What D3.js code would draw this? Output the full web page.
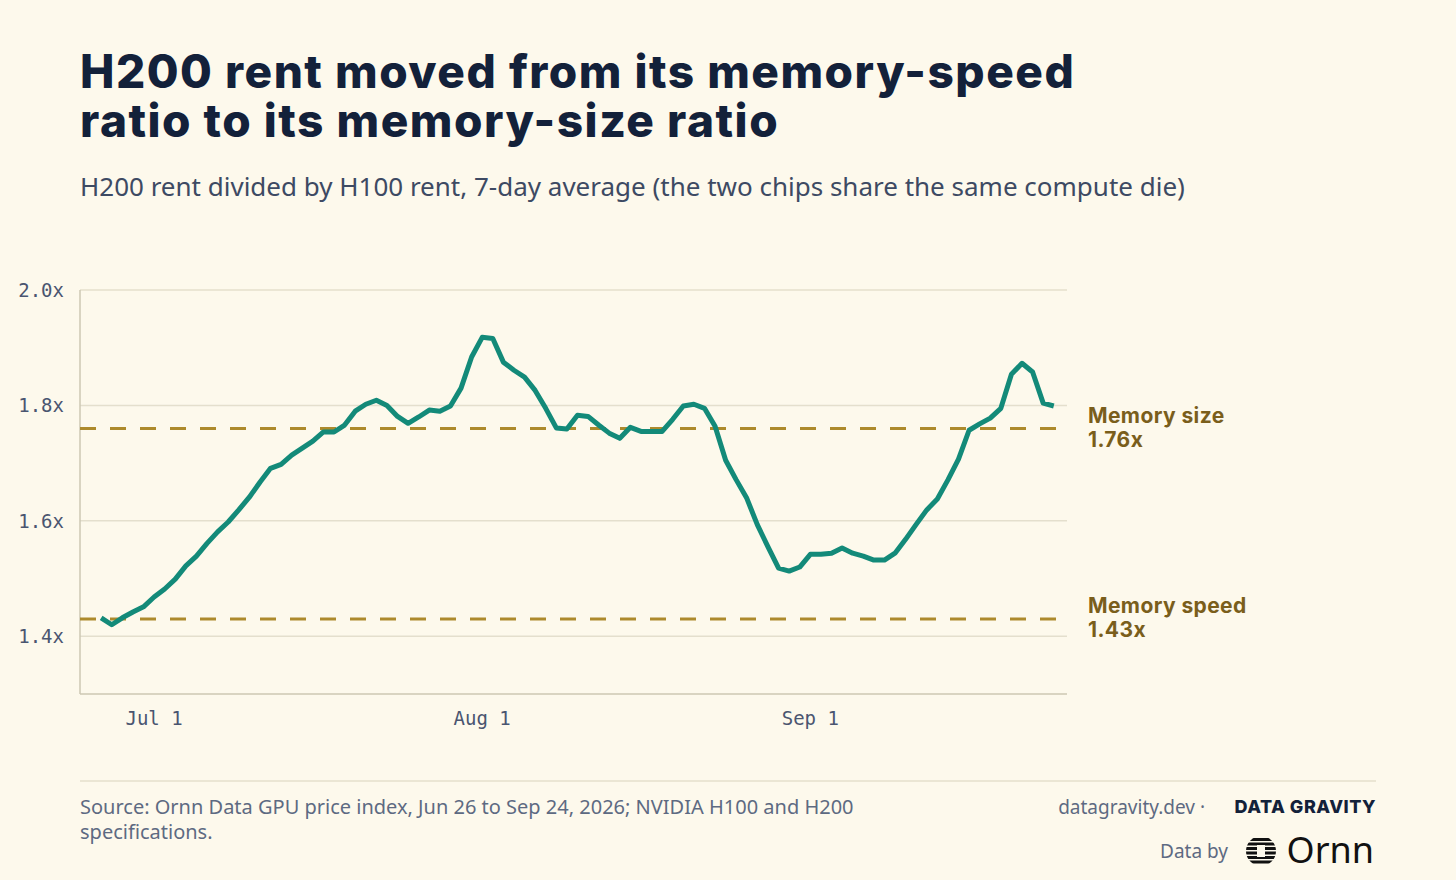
<!DOCTYPE html>
<html><head><meta charset="utf-8">
<script src="https://cdn.jsdelivr.net/npm/d3@7"></script>
<style>
body{margin:0;background:#fdf9ec;}
svg{display:block;}
</style></head><body>
<svg id="chart" width="1456" height="880"></svg>
<script>
// Data: daily 7-day average ratio, Jun 26 to Sep 24, 2026
let startDate = new Date(2026, 5, 26);
let ratios = [1.432,1.42,1.432,1.442,1.451,1.468,1.482,1.499,1.522,1.539,1.561,1.581,1.598,1.619,1.641,1.667,1.691,1.698,1.714,1.726,1.738,1.754,1.754,1.766,1.79,1.802,1.809,1.80,1.781,1.769,1.78,1.792,1.79,1.799,1.83,1.884,1.918,1.916,1.875,1.861,1.849,1.826,1.795,1.761,1.759,1.783,1.781,1.766,1.752,1.743,1.762,1.755,1.755,1.755,1.776,1.799,1.802,1.795,1.764,1.705,1.671,1.639,1.593,1.555,1.518,1.513,1.52,1.542,1.542,1.544,1.553,1.544,1.539,1.532,1.532,1.544,1.568,1.594,1.619,1.638,1.671,1.707,1.757,1.768,1.778,1.795,1.854,1.873,1.858,1.804,1.799];
let yTicks = [1.4, 1.6, 1.8, 2.0];
let xTicks = [new Date(2026, 6, 1), new Date(2026, 7, 1), new Date(2026, 8, 1)];
let titleLines = ["H200 rent moved from its memory-speed", "ratio to its memory-size ratio"];
let refLines = [
    { name: "Memory size", value: 1.76 },
    { name: "Memory speed", value: 1.43 }
];

let data = ratios.map(function (v, i) { return { date: d3.timeDay.offset(startDate, i), value: v }; });

let svg = d3.select("#chart");
let plotLeft = 80, plotRight = 1067, plotTop = 290, plotBottom = 694;

let x = d3.scaleTime()
    .domain([new Date(2026, 5, 24), new Date(2026, 8, 25, 6)])
    .range([plotLeft, plotRight]);
let y = d3.scaleLinear().domain([1.3, 2.0]).range([plotBottom, plotTop]);

// Titles (one text per line)
svg.append("g").selectAll("text").data(titleLines).enter().append("text")
    .attr("x", 80).attr("y", function (d, i) { return 88 + i * 49; })
    .attr("font-family", "Inter").attr("font-weight", 800).attr("font-size", 46)
    .attr("fill", "#13213a").attr("letter-spacing", "1.5")
    .text(function (d) { return d; });

svg.append("text").attr("x", 80).attr("y", 196)
    .attr("font-family", "Noto Sans").attr("font-size", 26).attr("fill", "#3d4a63")
    .text("H200 rent divided by H100 rent, 7-day average (the two chips share the same compute die)");

// Grid
svg.append("g").selectAll("line").data(yTicks).enter().append("line")
    .attr("x1", plotLeft).attr("x2", plotRight)
    .attr("y1", function (d) { return y(d); }).attr("y2", function (d) { return y(d); })
    .attr("stroke", "#e4dfcd").attr("stroke-width", 1.5);

// Axes lines
svg.append("line").attr("x1", plotLeft).attr("x2", plotLeft).attr("y1", plotTop).attr("y2", plotBottom)
    .attr("stroke", "#cdc7b3").attr("stroke-width", 1.5);
svg.append("line").attr("x1", plotLeft).attr("x2", plotRight).attr("y1", plotBottom).attr("y2", plotBottom)
    .attr("stroke", "#cdc7b3").attr("stroke-width", 1.5);

// Y tick labels
svg.append("g").selectAll("text").data(yTicks).enter().append("text")
    .attr("x", 64).attr("y", function (d) { return y(d) + 7; })
    .attr("text-anchor", "end")
    .attr("font-family", "DejaVu Sans Mono").attr("font-size", 19).attr("fill", "#4a5570")
    .text(function (d) { return d.toFixed(1) + "x"; });

// X tick labels
let fmt = d3.timeFormat("%b %-d");
svg.append("g").selectAll("text").data(xTicks).enter().append("text")
    .attr("x", function (d) { return x(d); }).attr("y", 725)
    .attr("text-anchor", "middle")
    .attr("font-family", "DejaVu Sans Mono").attr("font-size", 19).attr("fill", "#4a5570")
    .text(function (d) { return fmt(d); });

// Reference lines
svg.append("g").selectAll("line").data(refLines).enter().append("line")
    .attr("x1", plotLeft).attr("x2", plotRight)
    .attr("y1", function (d) { return y(d.value); }).attr("y2", function (d) { return y(d.value); })
    .attr("stroke", "#ad8a2c").attr("stroke-width", 3).attr("stroke-dasharray", "16,14");

let labels = svg.append("g").selectAll("text").data(refLines).enter().append("text")
    .attr("x", 1088).attr("y", function (d) { return y(d.value) - 6; })
    .attr("font-family", "Inter").attr("font-weight", 700).attr("font-size", 21)
    .attr("fill", "#7a5e1b").attr("letter-spacing", "0.4");
labels.append("tspan").attr("x", 1088).text(function (d) { return d.name; });
labels.append("tspan").attr("x", 1088).attr("dy", 24).text(function (d) { return d.value.toFixed(2) + "x"; });

// Line
let line = d3.line()
    .x(function (d) { return x(d.date); })
    .y(function (d) { return y(d.value); });
svg.append("path").datum(data).attr("d", line)
    .attr("fill", "none").attr("stroke", "#138a79").attr("stroke-width", 5)
    .attr("stroke-linejoin", "round");

// Footer
svg.append("line").attr("x1", 80).attr("x2", 1376).attr("y1", 781).attr("y2", 781)
    .attr("stroke", "#e4dfcd").attr("stroke-width", 1.5);
let src = svg.append("text").attr("font-family", "Noto Sans").attr("font-size", 20).attr("fill", "#5d6a82");
src.append("tspan").attr("x", 80).attr("y", 814).text("Source: Ornn Data GPU price index, Jun 26 to Sep 24, 2026; NVIDIA H100 and H200");
src.append("tspan").attr("x", 80).attr("y", 839).text("specifications.");

svg.append("text").attr("x", 1205).attr("y", 814).attr("text-anchor", "end")
    .attr("font-family", "Noto Sans").attr("font-size", 19).attr("fill", "#5d6a82")
    .text("datagravity.dev ·");
svg.append("text").attr("x", 1376).attr("y", 813).attr("text-anchor", "end")
    .attr("font-family", "Inter").attr("font-weight", 800).attr("font-size", 18).attr("fill", "#13213a")
    .attr("letter-spacing", "0.5").text("DATA GRAVITY");
svg.append("text").attr("x", 1228).attr("y", 858).attr("text-anchor", "end")
    .attr("font-family", "Noto Sans").attr("font-size", 19).attr("fill", "#5d6a82")
    .text("Data by");

// Ornn logo: striped circle
let logo = svg.append("g").attr("transform", "translate(1261,851)");
logo.append("clipPath").attr("id", "lc").append("circle").attr("r", 15);
let stripes = [-13, -8.5, -4, 0.5, 5, 9.5];
logo.append("g").attr("clip-path", "url(#lc)").selectAll("rect").data(stripes).enter().append("rect")
    .attr("x", -16).attr("y", function (d) { return d; }).attr("width", 32).attr("height", 3)
    .attr("fill", "#111");
logo.append("rect").attr("x", -4).attr("y", -6).attr("width", 8).attr("height", 12).attr("fill", "#fdf9ec");
svg.append("text").attr("x", 1374).attr("y", 863).attr("text-anchor", "end")
    .attr("font-family", "Noto Sans").attr("font-size", 36).attr("fill", "#111")
    .text("Ornn");
</script>
</body></html>
